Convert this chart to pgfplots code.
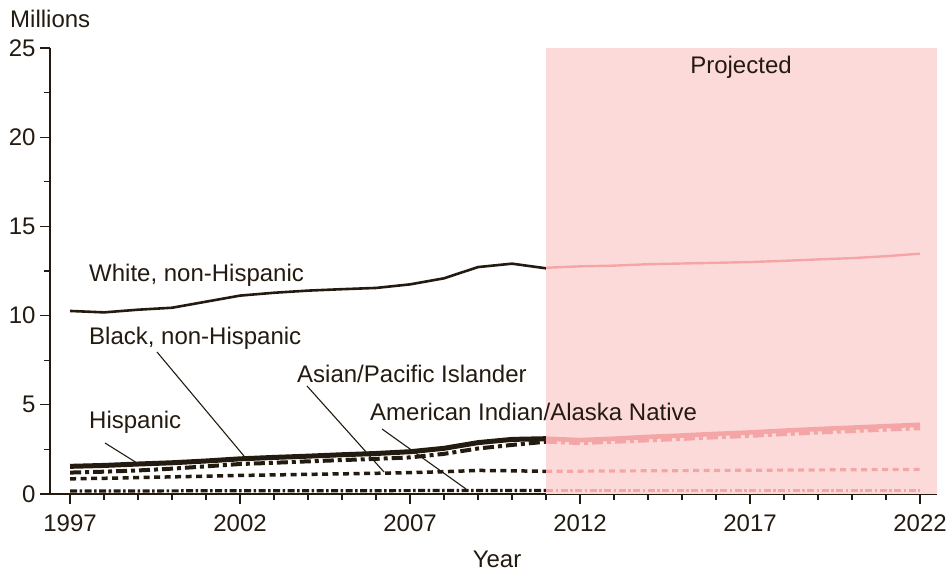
\documentclass[border=0pt]{standalone}
\usepackage{pgfplots}
\pgfplotsset{compat=1.18}
\usepackage{fontspec}
\setmainfont{Liberation Sans}
\definecolor{ink}{HTML}{231A10}
\definecolor{pinkbg}{HTML}{FDDADA}
\definecolor{pinkln}{HTML}{F4A6A6}
\begin{document}
\begin{tikzpicture}[x=1bp,y=1bp]
\path[use as bounding box] (0,0) rectangle (946,571);
\begin{axis}[
  at={(50bp,77bp)}, anchor=south west,
  scale only axis, width=887bp, height=446bp,
  xmin=1996.41, xmax=2022.5, ymin=0, ymax=25,
  axis x line*=bottom, axis y line*=left,
  axis line style={ink, line width=1.2bp, -},
  xtick={1997,2002,...,2022}, minor xtick={1997,...,2022},
  ytick={0,5,...,25}, minor ytick={2.5,7.5,...,22.5},
  xticklabel style={/pgf/number format/1000 sep={}, yshift=-7bp},
  yticklabel style={xshift=-1bp},
  tick style={ink, line width=1.2bp},
  major tick length=10bp, minor tick length=6bp,
  xtick align=outside, ytick align=outside,
  tick label style={font=\fontsize{24bp}{28bp}\selectfont, text=ink},
  /pgf/number format/assume math mode=true,
  clip=false,
]
\fill[pinkbg] (axis cs:2011,0) rectangle (axis cs:2022.5,25);
% White
\addplot[ink, line width=2.6bp] coordinates {(1997,10.26)(1998,10.18)(1999,10.33)(2000,10.44)(2001,10.78)(2002,11.12)(2003,11.28)(2004,11.4)(2005,11.48)(2006,11.55)(2007,11.75)(2008,12.09)(2009,12.72)(2010,12.91)(2011,12.65)};
\addplot[pinkln, line width=2.4bp] coordinates {(2011,12.68)(2012,12.76)(2013,12.8)(2014,12.88)(2015,12.92)(2016,12.96)(2017,13.0)(2018,13.07)(2019,13.15)(2020,13.22)(2021,13.33)(2022,13.47)};
% Asian
\addplot[ink, line width=3.5bp, dash pattern=on 6bp off 4.5bp] coordinates {(1997,0.85)(1998,0.88)(1999,0.92)(2000,0.96)(2001,1.0)(2002,1.04)(2003,1.07)(2004,1.1)(2005,1.13)(2006,1.16)(2007,1.2)(2008,1.25)(2009,1.32)(2010,1.3)(2011,1.27)};
\addplot[pinkln, line width=3.2bp, dash pattern=on 6bp off 4.5bp] coordinates {(2011,1.27)(2012,1.28)(2013,1.29)(2014,1.3)(2015,1.31)(2016,1.32)(2017,1.33)(2018,1.34)(2019,1.35)(2020,1.36)(2021,1.37)(2022,1.38)};
% AIAN
\addplot[ink, line width=3.2bp, dash pattern=on 7bp off 2.5bp on 2.5bp off 2.5bp] coordinates {(1997,0.17)(1999,0.17)(2001,0.18)(2003,0.18)(2005,0.18)(2007,0.19)(2009,0.2)(2011,0.2)};
\addplot[pinkln, line width=3bp, dash pattern=on 7bp off 2.5bp on 2.5bp off 2.5bp] coordinates {(2011,0.2)(2014,0.2)(2017,0.2)(2020,0.2)(2022,0.2)};
% Hispanic
\addplot[ink, line width=4bp, dash pattern=on 11bp off 4bp on 4bp off 4bp] coordinates {(1997,1.2)(1998,1.25)(1999,1.32)(2000,1.42)(2001,1.55)(2002,1.68)(2003,1.75)(2004,1.83)(2005,1.9)(2006,1.97)(2007,2.05)(2008,2.25)(2009,2.55)(2010,2.75)(2011,2.93)};
\addplot[pinkln, line width=3.8bp, dash pattern=on 11bp off 4bp on 4bp off 4bp] coordinates {(2011,2.93)(2012,2.85)(2013,2.92)(2014,3.0)(2015,3.08)(2016,3.17)(2017,3.25)(2018,3.35)(2019,3.44)(2020,3.52)(2021,3.6)(2022,3.68)};
% Black
\addplot[ink, line width=5bp] coordinates {(1997,1.55)(1998,1.6)(1999,1.68)(2000,1.75)(2001,1.85)(2002,1.97)(2003,2.05)(2004,2.12)(2005,2.2)(2006,2.27)(2007,2.37)(2008,2.56)(2009,2.88)(2010,3.06)(2011,3.1)};
\addplot[pinkln, line width=4.6bp] coordinates {(2011,3.1)(2012,3.02)(2013,3.1)(2014,3.2)(2015,3.28)(2016,3.37)(2017,3.45)(2018,3.55)(2019,3.64)(2020,3.72)(2021,3.8)(2022,3.88)};
\end{axis}
\begin{scope}[every node/.style={font=\fontsize{24bp}{28bp}\selectfont, text=ink, inner sep=0pt}]
\node[anchor=west] at (10,552) {Millions};
\node at (741,504) {Projected};
\node at (497,12) {Year};
\node[anchor=west] at (89,296) {White, non-Hispanic};
\node[anchor=west] at (89,233) {Black, non-Hispanic};
\node[anchor=west] at (89,149) {Hispanic};
\node[anchor=west] at (297,197) {Asian/Pacific Islander};
\node[anchor=west] at (370,159) {American Indian/Alaska Native};
\end{scope}
\begin{scope}[ink, line width=1.1bp]
\draw (157,219) -- (244,115);
\draw (105,128) -- (137,108);
\draw (307,185) -- (384,99);
\draw (382,142) -- (466,82);
\end{scope}
\end{tikzpicture}
\end{document}
